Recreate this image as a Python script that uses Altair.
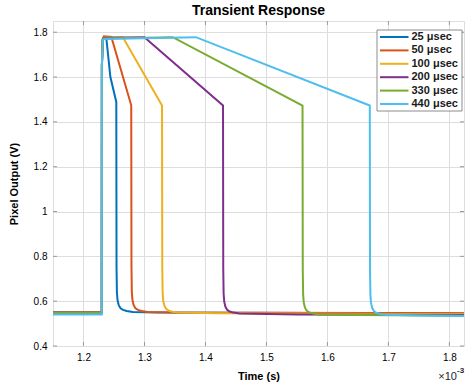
import altair as alt
import pandas as pd

SERIES = ["25 μsec", "50 μsec", "100 μsec", "200 μsec", "330 μsec", "440 μsec"]
COLORS = ["#0072BD", "#D95319", "#EDB120", "#7E2F8E", "#77AC30", "#4DBEEE"]

T25 = [1.140, 1.2300, 1.2302, 1.2315, 1.2335, 1.2375, 1.2441, 1.2538, 1.2542, 1.2548, 1.2558, 1.2578, 1.2608, 1.2648, 1.2708, 1.2808, 1.3200, 1.8300]
V25 = [0.550, 0.550, 1.650, 1.765, 1.778, 1.772, 1.600, 1.489, 0.750, 0.640, 0.605, 0.582, 0.568, 0.561, 0.556, 0.552, 0.550, 0.545]

T50 = [1.140, 1.2300, 1.2302, 1.2315, 1.2335, 1.2457, 1.2783, 1.2787, 1.2793, 1.2803, 1.2823, 1.2853, 1.2893, 1.2953, 1.3053, 1.3500, 1.8300]
V50 = [0.551, 0.551, 1.650, 1.770, 1.782, 1.779, 1.474, 0.750, 0.640, 0.605, 0.582, 0.568, 0.561, 0.556, 0.552, 0.549, 0.546]

T100 = [1.140, 1.2300, 1.2302, 1.2315, 1.2335, 1.2646, 1.3288, 1.3292, 1.3298, 1.3308, 1.3328, 1.3358, 1.3398, 1.3458, 1.3558, 1.4200, 1.8300]
V100 = [0.549, 0.549, 1.650, 1.765, 1.776, 1.777, 1.473, 0.750, 0.638, 0.602, 0.579, 0.565, 0.558, 0.553, 0.549, 0.546, 0.542]

T200 = [1.140, 1.2300, 1.2302, 1.2315, 1.2335, 1.2999, 1.4288, 1.4292, 1.4298, 1.4308, 1.4328, 1.4358, 1.4398, 1.4458, 1.4558, 1.5500, 1.8300]
V200 = [0.549, 0.549, 1.650, 1.765, 1.775, 1.778, 1.473, 0.745, 0.634, 0.598, 0.575, 0.561, 0.554, 0.549, 0.545, 0.541, 0.538]

T330 = [1.140, 1.2300, 1.2302, 1.2315, 1.2335, 1.3463, 1.5592, 1.5596, 1.5602, 1.5612, 1.5632, 1.5662, 1.5702, 1.5762, 1.5862, 1.6500, 1.8300]
V330 = [0.548, 0.548, 1.650, 1.765, 1.772, 1.778, 1.473, 0.740, 0.630, 0.594, 0.571, 0.557, 0.550, 0.545, 0.541, 0.538, 0.535]

T440 = [1.140, 1.2300, 1.2302, 1.2315, 1.2335, 1.3843, 1.6695, 1.6699, 1.6705, 1.6715, 1.6735, 1.6765, 1.6805, 1.6865, 1.6965, 1.7500, 1.8300]
V440 = [0.541, 0.541, 1.650, 1.762, 1.770, 1.778, 1.473, 0.740, 0.628, 0.592, 0.569, 0.555, 0.548, 0.543, 0.539, 0.536, 0.534]

XTICKS = [1.2, 1.3, 1.4, 1.5, 1.6, 1.7, 1.8]
YTICKS = [0.4, 0.6, 0.8, 1.0, 1.2, 1.4, 1.6, 1.8]
X_DOMAIN = [1.15, 1.824]
Y_DOMAIN = [0.4, 1.85]

W, H = 411, 325
FONT = "Liberation Sans"
AXIS_GRAY = "#9a9a9a"

rows = []
for name, ts, vs in zip(SERIES, [T25, T50, T100, T200, T330, T440],
                        [V25, V50, V100, V200, V330, V440]):
    for i, (t, v) in enumerate(zip(ts, vs)):
        rows.append({"series": name, "t": t, "v": v, "i": i})
df = pd.DataFrame(rows)

xs = alt.Scale(domain=X_DOMAIN, nice=False, zero=False)
ys = alt.Scale(domain=Y_DOMAIN, nice=False, zero=False)

lines = alt.Chart(df).mark_line(strokeWidth=2, clip=True).encode(
    x=alt.X("t:Q", scale=xs,
            axis=alt.Axis(values=XTICKS, format="~g", title="Time (s)", grid=True,
                          ticks=False, domain=False, labelPadding=6, titlePadding=8)),
    y=alt.Y("v:Q", scale=ys,
            axis=alt.Axis(values=YTICKS, format="~g", title="Pixel Output (V)", grid=True,
                          ticks=False, domain=False, labelPadding=6, titlePadding=14)),
    color=alt.Color("series:N", sort=SERIES,
                    scale=alt.Scale(domain=SERIES, range=COLORS), legend=None),
    order="i:Q",
    detail="series:N",
)

xt = pd.DataFrame({"x": XTICKS})
yt = pd.DataFrame({"y": YTICKS})
xtick_b = alt.Chart(xt).mark_rule(color=AXIS_GRAY).encode(
    x=alt.X("x:Q", scale=xs), y=alt.value(H), y2=alt.value(H - 4))
xtick_t = alt.Chart(xt).mark_rule(color=AXIS_GRAY).encode(
    x=alt.X("x:Q", scale=xs), y=alt.value(0), y2=alt.value(4))
ytick_l = alt.Chart(yt).mark_rule(color=AXIS_GRAY).encode(
    y=alt.Y("y:Q", scale=ys), x=alt.value(0), x2=alt.value(4))
ytick_r = alt.Chart(yt).mark_rule(color=AXIS_GRAY).encode(
    y=alt.Y("y:Q", scale=ys), x=alt.value(W), x2=alt.value(W - 4))

# legend (drawn with marks, MATLAB style)
leg_df = pd.DataFrame({"series": SERIES, "color": COLORS})
leg_y = alt.Y("series:N", sort=SERIES,
              scale=alt.Scale(type="point", domain=SERIES, range=[16, 83], padding=0),
              axis=None)
leg_box = alt.Chart(pd.DataFrame({"a": [0]})).mark_rect(
    fill="white", stroke="#6e6e6e", strokeWidth=0.8
).encode(x=alt.value(324), x2=alt.value(409), y=alt.value(9), y2=alt.value(90))
leg_lines = alt.Chart(leg_df).mark_rule(strokeWidth=2).encode(
    x=alt.value(327), x2=alt.value(355.5), y=leg_y,
    color=alt.Color("color:N", scale=None))
leg_text = alt.Chart(leg_df).mark_text(
    align="left", baseline="middle", fontSize=11, fontWeight="bold", font=FONT, color="#1a1a1a"
).encode(x=alt.value(358.5), y=leg_y, text="series:N")

exp_base = alt.Chart(pd.DataFrame({"s": ["×10"]})).mark_text(
    align="right", baseline="middle", fontSize=11, font=FONT, color="#262626"
).encode(text="s:N", x=alt.value(W - 7), y=alt.value(H + 31))
exp_pow = alt.Chart(pd.DataFrame({"s": ["-3"]})).mark_text(
    align="left", baseline="middle", fontSize=8, fontWeight="bold", font=FONT, color="#262626"
).encode(text="s:N", x=alt.value(W - 7), y=alt.value(H + 25))

main = alt.layer(xtick_b, xtick_t, ytick_l, ytick_r, lines)
legend = alt.layer(leg_box, leg_lines, leg_text)

chart = alt.layer(main, legend, exp_base, exp_pow).resolve_scale(
    y="independent", color="independent"
).properties(
    width=W, height=H,
    title=alt.TitleParams("Transient Response", fontSize=14, fontWeight="bold", font=FONT,
                          color="#000000", offset=3),
    autosize=alt.AutoSizeParams(type="none"),
    padding={"left": 53, "top": 21, "right": 1, "bottom": 43},
).configure_view(stroke=AXIS_GRAY, strokeWidth=1).configure_axis(
    labelFont=FONT, labelFontSize=11, labelFontWeight="bold", labelColor="#262626",
    titleFont=FONT, titleFontSize=12.5, titleFontWeight="bold", titleColor="#262626",
    gridColor="#ebebeb", gridWidth=1,
).configure(background="white")

chart.save("out.html", embed_options={"renderer": "svg", "actions": False})
